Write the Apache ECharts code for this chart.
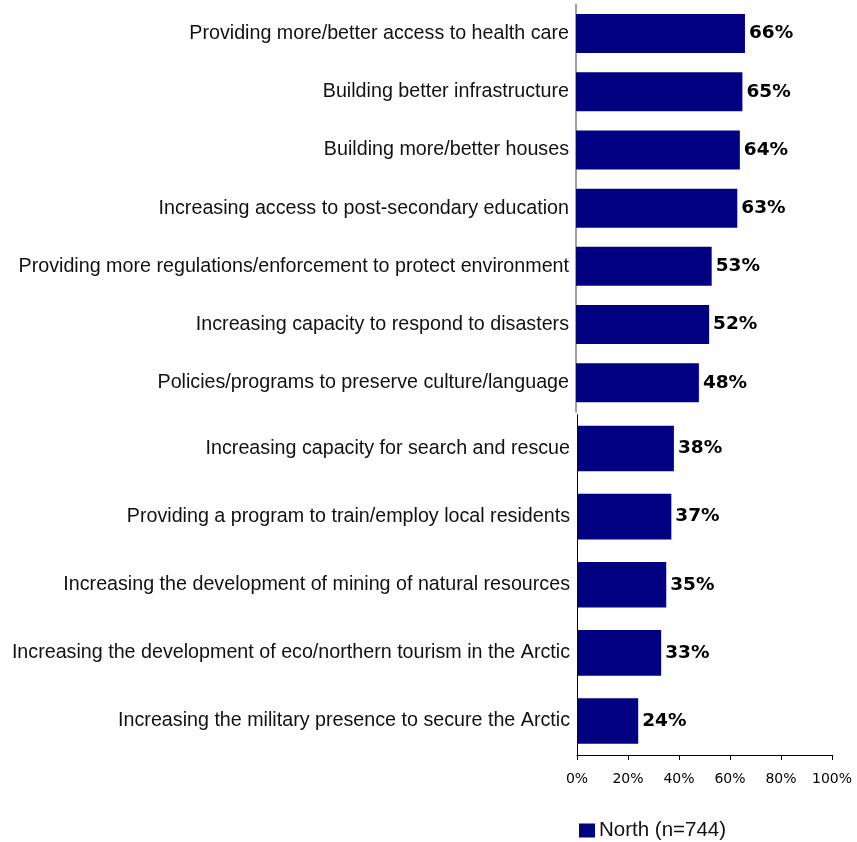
<!DOCTYPE html>
<html><head><meta charset="utf-8">
<script src="https://cdn.jsdelivr.net/npm/echarts@6/dist/echarts.min.js"></script>
<style>html,body{margin:0;padding:0;background:#fff}#c{width:857px;height:842px}</style>
</head><body><div id="c"></div>
<script>
const topCategories = [
  "Providing more/better access to health care",
  "Building better infrastructure",
  "Building more/better houses",
  "Increasing access to post-secondary education",
  "Providing more regulations/enforcement to protect environment",
  "Increasing capacity to respond to disasters",
  "Policies/programs to preserve culture/language"
];
const topValues = [66, 65, 64, 63, 53, 52, 48];
const bottomCategories = [
  "Increasing capacity for search and rescue",
  "Providing a program to train/employ local residents",
  "Increasing the development of mining of natural resources",
  "Increasing the development of eco/northern tourism in the Arctic",
  "Increasing the military presence to secure the Arctic"
];
const bottomValues = [38, 37, 35, 33, 24];
const seriesName = "North (n=744)";
const tickLabels = ["0%", "20%", "40%", "60%", "80%", "100%"];

const FONT = "'Liberation Sans', Arial, sans-serif";
const BOLDFONT = "'DejaVu Sans', Verdana, sans-serif";
const chart = echarts.init(document.getElementById('c'), null, {renderer: 'canvas'});
const labelStyle = {show: true, position: 'right', distance: 4, formatter: '{c}%', color: '#000', fontSize: 18.5, fontWeight: 'bold', fontFamily: BOLDFONT};
chart.setOption({
  animation: false,
  grid: [
    {left: 576, width: 256, top: 4.4, height: 407.5, containLabel: false},
    {left: 577, width: 255, top: 414.5, height: 340.5, containLabel: false}
  ],
  xAxis: [
    {gridIndex: 0, type: 'value', min: 0, max: 100, show: false},
    {gridIndex: 1, type: 'value', min: 0, max: 100, interval: 20,
     axisLine: {show: true, lineStyle: {color: '#000', width: 1}},
     axisTick: {show: true, length: 5, lineStyle: {color: '#000'}},
     splitLine: {show: false},
     axisLabel: {formatter: v => tickLabels[v / 20], fontSize: 14, color: '#000', margin: 17, fontFamily: BOLDFONT}}
  ],
  yAxis: [
    {gridIndex: 0, type: 'category', inverse: true, data: topCategories,
     axisLine: {show: true, lineStyle: {color: '#808080', width: 1.5}},
     axisTick: {show: false},
     axisLabel: {fontSize: 19.7, color: '#111', margin: 7, fontFamily: FONT}},
    {gridIndex: 1, type: 'category', inverse: true, data: bottomCategories,
     axisLine: {show: true, lineStyle: {color: '#000', width: 1}},
     axisTick: {show: false},
     axisLabel: {fontSize: 19.7, color: '#111', margin: 7, fontFamily: FONT}}
  ],
  legend: {
    data: [seriesName], left: 574, top: 815, itemWidth: 16, itemHeight: 14, itemGap: 6,
    icon: 'rect',
    textStyle: {fontSize: 20.5, color: '#111', fontFamily: FONT, padding: [0,0,0,-1]}
  },
  series: [
    {name: seriesName, type: 'bar', xAxisIndex: 0, yAxisIndex: 0, data: topValues,
     barCategoryGap: '33%', itemStyle: {color: '#000080'}, label: labelStyle},
    {name: seriesName, type: 'bar', xAxisIndex: 1, yAxisIndex: 1, data: bottomValues,
     barCategoryGap: '33%', itemStyle: {color: '#000080'}, label: labelStyle}
  ]
});
</script></body></html>
